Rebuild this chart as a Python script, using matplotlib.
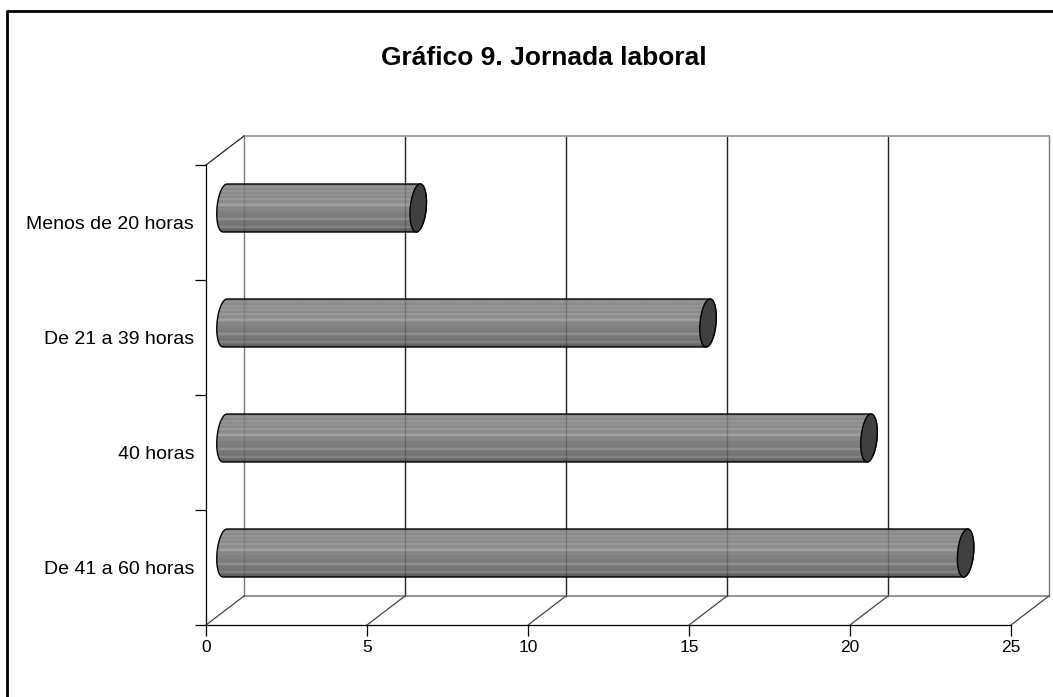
import numpy as np
import matplotlib
matplotlib.use('Agg')
import matplotlib.pyplot as plt
from matplotlib.lines import Line2D
from matplotlib.path import Path
from matplotlib.patches import PathPatch

categorias = ['De 41 a 60 horas', '40 horas', 'De 21 a 39 horas', 'Menos de 20 horas']
valores = [23, 20, 15, 6]
ticks_x = [0, 5, 10, 15, 20, 25]
titulo = 'Gráfico 9. Jornada laboral'

# gray levels of the cylinder stripes, top to bottom
franjas = [0.44, 0.54, 0.46, 0.55, 0.47, 0.54, 0.45, 0.58, 0.47, 0.50, 0.62, 0.45,
           0.48, 0.44, 0.43, 0.42, 0.41, 0.54, 0.38, 0.40, 0.36, 0.48, 0.32, 0.28]

plt.rcParams['font.family'] = ['Liberation Sans', 'DejaVu Sans']

fig = plt.figure(figsize=(10.53, 6.97), dpi=100)
ax = fig.add_axes([206/1053, (697-625)/697, 805/1053, 460/697])
ax.set_xlim(0, 25)
ax.set_ylim(0, 4)

# depth of the fake 3d box, in data units
dx = 38/32.2
dy = 29/115

ax.spines['top'].set_visible(False)
ax.spines['right'].set_visible(False)
for s in ['left', 'bottom']:
    ax.spines[s].set_linewidth(0.9)
ax.set_xticks(ticks_x)
ax.set_xticklabels([str(t) for t in ticks_x], fontsize=12.5)
ax.set_yticks([0, 1, 2, 3, 4])
ax.set_yticklabels([])
ax.set_yticks([0.5, 1.5, 2.5, 3.5], minor=True)
ax.set_yticklabels(categorias, minor=True, fontsize=14)
ax.tick_params(axis='both', which='major', length=8, width=0.9, pad=3)
ax.tick_params(axis='y', which='minor', length=0, pad=8.5)

# back wall and floor
for t in ticks_x:
    gris = '#777777' if t in (0, 25) else '#222222'
    ax.plot([t+dx, t+dx], [dy, 4+dy], color=gris, lw=1.0, clip_on=False, zorder=1)
ax.plot([dx, 25+dx], [4+dy, 4+dy], color='#999999', lw=1.3, clip_on=False, zorder=1)
ax.plot([dx, 25+dx], [dy, dy], color='#777777', lw=1.1, clip_on=False, zorder=1)
for t in ticks_x:
    ax.plot([t, t+dx], [0, dy], color='#444444', lw=0.9, clip_on=False, zorder=1)
ax.plot([0, dx], [4, 4+dy], color='#222222', lw=0.9, clip_on=False, zorder=1)

# cylinders
ra = 8/32.2
rb = 24/115
sesgo = 2/32.2
th = np.linspace(np.pi/2, 3*np.pi/2, 40)
img = np.array(franjas).reshape(-1, 1)
for i, v in enumerate(valores):
    yc = i + 0.5 + dy/2
    x0 = dx/2
    x1 = v + dx/2
    izq = np.column_stack([x0 + ra*np.cos(th) + sesgo*np.sin(th), yc + rb*np.sin(th)])
    th2 = th - np.pi
    der = np.column_stack([x1 + ra*np.cos(th2) + sesgo*np.sin(th2), yc + rb*np.sin(th2)])
    pts = np.vstack([izq, der, izq[:1]])
    contorno = PathPatch(Path(pts), transform=ax.transData, fc='none', ec='none', zorder=2)
    ax.add_patch(contorno)
    im = ax.imshow(img, cmap='gray', vmin=0, vmax=1, aspect='auto', alpha=0.88,
                   extent=[x0-ra-0.1, x1+ra+0.1, yc-rb, yc+rb], zorder=2, interpolation='bilinear')
    im.set_clip_path(contorno)
    ax.add_patch(PathPatch(Path(pts), fc='none', ec='black', lw=1.0, zorder=3, clip_on=False))
    # end cap
    tc = np.linspace(0, 2*np.pi, 80)
    cap = np.column_stack([x1 + ra*np.cos(tc) + sesgo*np.sin(tc), yc + rb*np.sin(tc)])
    ax.add_patch(PathPatch(Path(cap), fc='#404040', ec='black', lw=1.0, zorder=4, clip_on=False))

ax.set_xlim(0, 25)
ax.set_ylim(0, 4)

fig.text(543.5/1053, 1-58/697, titulo, fontsize=19, fontweight='bold', ha='center', va='center')

# outer frame, only top and left are inside the picture
fig.add_artist(Line2D([7/1053, 7/1053, 1], [0, 1-11/697, 1-11/697], color='black', lw=2.0))

fig.savefig('out.png', dpi=100)
